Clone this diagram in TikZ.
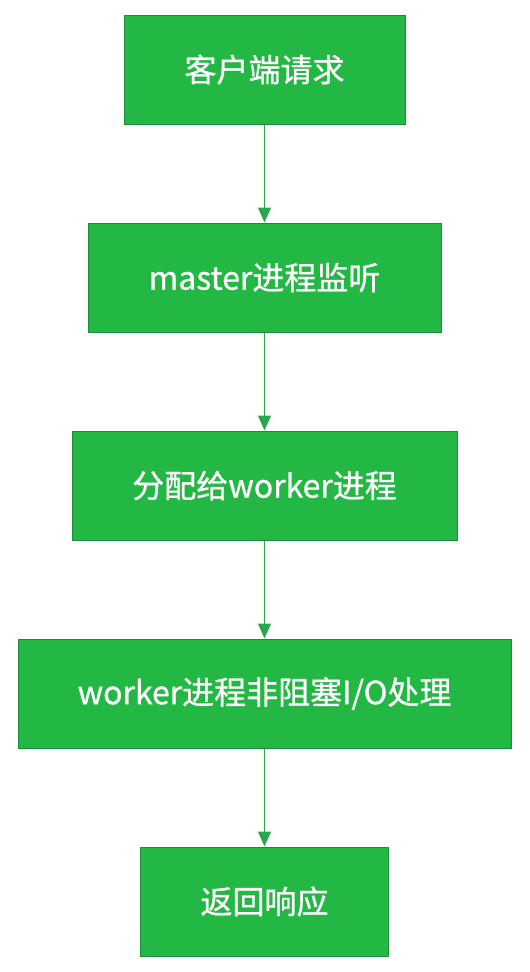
\documentclass[tikz,border=0pt]{standalone}
\usepackage{fontspec}
\newfontfamily\cjk[FakeBold=0.8]{Noto Sans CJK SC}
\usetikzlibrary{arrows.meta}
\definecolor{boxgreen}{HTML}{22B843}
\definecolor{edgegreen}{HTML}{1E8A3C}
\definecolor{flowgreen}{HTML}{2BA64E}
\tikzset{
  procbox/.style={draw=edgegreen,line width=1pt,fill=boxgreen,minimum height=109pt,
    text=white,font=\cjk\fontsize{32}{36}\selectfont,inner sep=0pt},
  flow/.style={flowgreen,line width=1.2pt,-{Triangle[width=13pt,length=15pt]}}
}
\begin{document}
\begin{tikzpicture}[x=1pt,y=1pt]
            \useasboundingbox (0,0) rectangle (530,-972);
            \node[procbox,minimum width=281pt] (req) at (264.5,-69.5) {客户端请求};
            \node[procbox,minimum width=353pt] (listen) at (264.5,-277.5) {master进程监听};
            \node[procbox,minimum width=385pt] (assign) at (264.5,-485.5) {分配给worker进程};
            \node[procbox,minimum width=493pt] (nio) at (264.5,-693.5) {worker进程非阻塞I/O处理};
            \node[procbox,minimum width=248pt] (resp) at (264.5,-901.5) {返回响应};
            \draw[flow] (req) -- (listen);
            \draw[flow] (listen) -- (assign);
            \draw[flow] (assign) -- (nio);
            \draw[flow] (nio) -- (resp);
        \end{tikzpicture}
\end{document}
